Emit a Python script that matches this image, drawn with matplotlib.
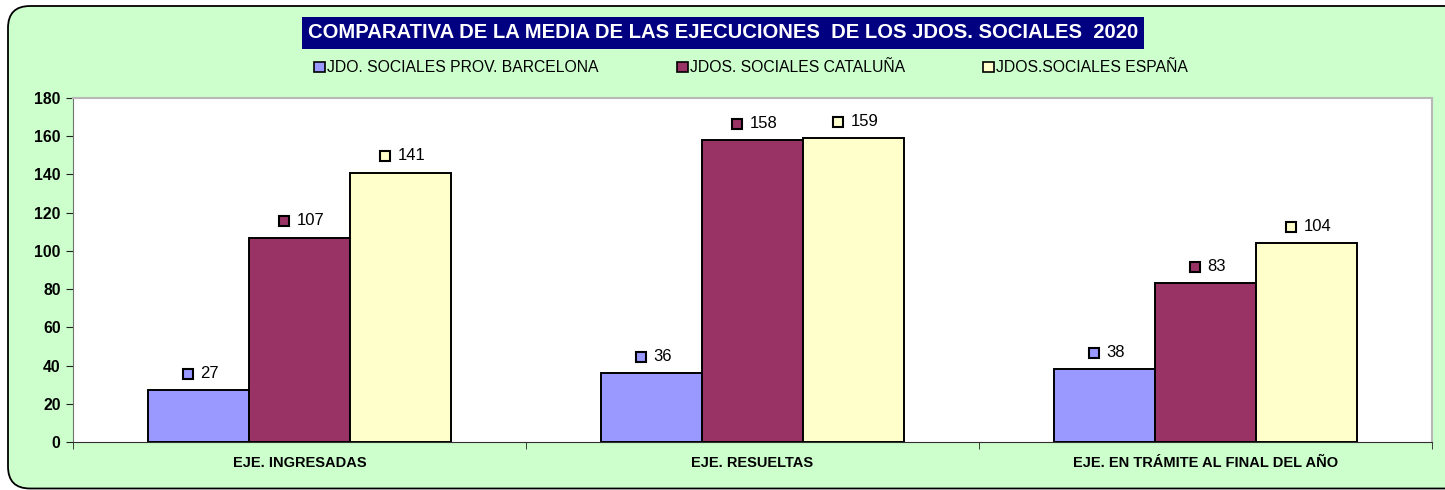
import matplotlib
matplotlib.use("Agg")
import matplotlib.pyplot as plt
import numpy as np
from matplotlib.patches import FancyBboxPatch, Rectangle, Patch
from matplotlib.offsetbox import AnnotationBbox, HPacker, TextArea, DrawingArea
from matplotlib.transforms import IdentityTransform

plt.rcParams['font.family'] = ['Liberation Sans', 'DejaVu Sans']

categories = ['EJE. INGRESADAS', 'EJE. RESUELTAS', 'EJE. EN TRÁMITE AL FINAL DEL AÑO']
series_names = ['JDO. SOCIALES PROV. BARCELONA', 'JDOS. SOCIALES CATALUÑA', 'JDOS.SOCIALES ESPAÑA']
barcelona = [27, 36, 38]
cataluna = [107, 158, 83]
espana = [141, 159, 104]
colors = ['#9999FF', '#993366', '#FFFFCC']
title = 'COMPARATIVA DE LA MEDIA DE LAS EJECUCIONES  DE LOS JDOS. SOCIALES  2020'

fig = plt.figure(figsize=(14.45, 4.9), dpi=100, facecolor='white')

# rounded green frame (pixel coords), right side runs off the canvas
frame = FancyBboxPatch((8, 1.5), 1520, 482.5, boxstyle='round,pad=0,rounding_size=22',
                       transform=IdentityTransform(), facecolor='#CCFFCC',
                       edgecolor='black', linewidth=1.3, zorder=-5, clip_on=False)
fig.patches.append(frame)

ax = fig.add_axes([73/1445, 48/490, (1432-73)/1445, (442-98)/490])
ax.set_facecolor('white')

x = np.arange(len(categories))
w = 0.223
for i, (vals, c) in enumerate(zip([barcelona, cataluna, espana], colors)):
    pos = x + (i - 1) * w
    ax.bar(pos, vals, width=w, color=c, edgecolor='black', linewidth=1.4, zorder=3)
    for px, v in zip(pos, vals):
        da = DrawingArea(8, 8, 0, 0)
        da.add_artist(Rectangle((0, 0), 7.2, 7.2, facecolor=c, edgecolor='black', linewidth=1.5))
        ta = TextArea(str(v), textprops=dict(fontsize=12, color='black'))
        box = HPacker(children=[da, ta], align='center', pad=0, sep=4.5)
        ab = AnnotationBbox(box, (px, v), xybox=(1.5, 12), xycoords='data',
                            boxcoords='offset points', frameon=False,
                            box_alignment=(0.5, 0.5), zorder=4)
        ax.add_artist(ab)

ax.set_xlim(-0.5, len(categories) - 0.5)
ax.set_ylim(0, 180)
ax.set_yticks(range(0, 181, 20))
ax.set_xticks(x)
ax.set_xticklabels(categories, fontsize=10.5, fontweight='bold')
ax.set_xticks([-0.5, 0.5, 1.5, 2.5], minor=True)
ax.tick_params(axis='x', which='major', length=0, pad=10)
ax.tick_params(axis='x', which='minor', length=5, direction='out', color='#202020')
ax.tick_params(axis='y', length=5, direction='out', pad=4, color='#202020')
for lab in ax.get_yticklabels():
    lab.set_fontweight('bold')
    lab.set_fontsize(11.3)
ax.spines['left'].set_color('#707070')
ax.spines['bottom'].set_color('#303030')
ax.spines['top'].set_color('#B8B8B8')
ax.spines['right'].set_color('#B8B8B8')
ax.spines['top'].set_linewidth(1.5)
ax.spines['right'].set_linewidth(1.5)

fig.text(723/1445, 1 - 33/490, title, ha='center', va='center', color='white',
         fontsize=14.6, fontweight='bold',
         bbox=dict(boxstyle='square,pad=0.3', facecolor='#000080', edgecolor='none'))

handles = [Patch(facecolor=c, edgecolor='black', linewidth=1.2) for c in colors]
fig.legend(handles, series_names, loc='center', bbox_to_anchor=(751/1445, 1 - 68/490),
           ncol=3, frameon=False, fontsize=11.3, handlelength=0.7, handleheight=0.7,
           handletextpad=0.15, columnspacing=4.95)

fig.savefig('out.png', dpi=100, facecolor='white')
